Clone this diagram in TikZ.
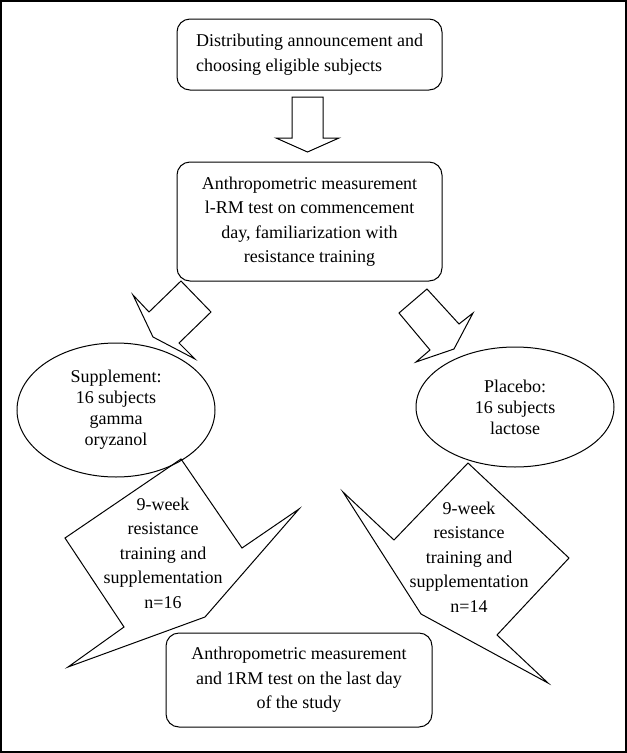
\documentclass[tikz,border=0pt]{standalone}
\usepackage{fontspec}
\setmainfont{Liberation Serif}
\usetikzlibrary{shapes,arrows,shapes.geometric,positioning}

\begin{document}
\begin{tikzpicture}[x=1pt,y=-1pt]
    \tikzset{
        stage/.style = {rectangle, draw, line width=1pt, rounded corners=13pt, minimum width=265pt, align=center, inner sep=0pt, font=\fontsize{18}{24.5}\selectfont},
        group/.style = {ellipse, draw, line width=1pt, minimum width=198pt, align=center, inner sep=0pt, font=\fontsize{18}{21}\selectfont},
        phase/.style = {align=center, inner sep=0pt, font=\fontsize{18}{24.5}\selectfont},
        blockarrow/.style = {draw, line width=1pt, line join=miter}
    }

    \useasboundingbox (0,0) rectangle (627,753);
    \draw[line width=1.5pt] (1,1) rectangle (626,752);

    \node[stage, minimum height=71pt, align=left](announce) at (309.5,54.5){Distributing announcement and\\choosing eligible subjects};
    \node[stage, minimum height=119pt](baseline)[below = 71pt of announce]{Anthropometric measurement\\ l-RM test on commencement\\day, familiarization with\\resistance training};

    \node[group, minimum height=134pt](supplement) at (116,410){Supplement:\\16 subjects\\gamma\\oryzanol};
    \node[group, minimum height=120pt](placebo) at (515,407){Placebo:\\16 subjects\\lactose};

    \node[phase](suptrain) at (163,553){9-week\\resistance\\training and\\supplementation\\n=16};
    \node[phase](platrain) at (469,557){9-week\\resistance\\training and\\supplementation\\n=14};

    \node[stage, minimum height=94pt, minimum width=266pt](final) at (299,680){Anthropometric measurement\\and 1RM test on the last day\\of the study};

    \path [blockarrow] (292,97) -- (323,97) -- (323,138) -- (339,138) -- (307.5,152) -- (276,138) -- (292,138) -- cycle;
    \path [blockarrow] (133,295) -- (149,312) -- (181,281) -- (211,312) -- (179,343) -- (195,359) -- (153,337) -- cycle;
    \path [blockarrow] (427,289) -- (399,313) -- (430,350) -- (416,362) -- (454,349) -- (473,313) -- (459,324) -- cycle;

    \path [blockarrow] (181,459) -- (242,548) -- (299,509) -- (205,617) -- (68,667) -- (124,627) -- (65,538) -- cycle;
    \path [blockarrow] (468,463) -- (569,558) -- (497,635) -- (548,683) -- (421,614) -- (343,492) -- (394,540) -- cycle;

\end{tikzpicture}
\end{document}
